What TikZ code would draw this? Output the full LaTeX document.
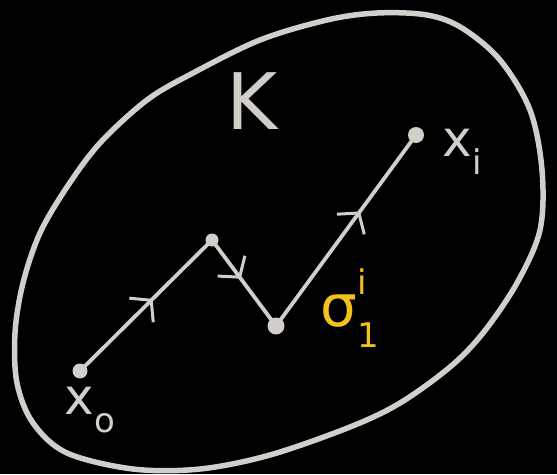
\documentclass[tikz,border=0pt]{standalone}
\usepackage{fontspec}
\setmainfont{DejaVu Sans}
\usetikzlibrary{arrows.meta,decorations.markings}
\definecolor{chalk}{HTML}{D2CFCA}
\definecolor{gold}{HTML}{F2C21B}
\newcommand{\lowsub}[1]{\raisebox{-0.35em}{\fontsize{34}{34}\selectfont #1}}
\newcommand{\highsup}[1]{\raisebox{0.55em}{\fontsize{34}{34}\selectfont #1}}
\tikzset{
  stroke/.style={draw=chalk,line width=5.5pt,line cap=round,line join=round},
  pathseg/.style={draw=chalk,line width=3.8pt,line cap=round,postaction={decorate},
    decoration={markings,mark=at position #1 with {\arrow[chalk,line width=3pt]{Straight Barb[length=14pt,width=34pt]}}}},
  ptdot/.style={circle,fill=chalk,inner sep=0pt,minimum size=15pt},
  lab/.style={text=chalk,inner sep=0pt,font=\fontsize{50}{56}\selectfont}
}
\begin{document}
\begin{tikzpicture}[x=1pt,y=-1pt]
\fill[black] (0,0) rectangle (557,474);
\useasboundingbox (0,0) rectangle (557,474);
% region K
\draw[stroke] plot[smooth cycle,tension=0.55] coordinates {
 (15,333) (23,283) (40,233) (67,187) (100,143) (147,100) (193,73) (260,40)
 (327,20) (377,13) (427,15) (462,28) (500,60) (530,110) (542,170) (540,230)
 (517,283) (483,333) (450,367) (400,403) (350,427) (270,455) (200,469)
 (133,469) (67,453) (33,423) (17,383)};
% points
\node[ptdot] (p0) at (80,371) {};
\node[ptdot,minimum size=13pt] (p1) at (212,240) {};
\node[ptdot,minimum size=17pt] (p2) at (276,326) {};
\node[ptdot,minimum size=16pt] (p3) at (416,135) {};
% path segments
\draw[pathseg=0.55] (p0.center) -- (p1.center);
\draw[pathseg=0.45] (p1.center) -- (p2.center);
\draw[pathseg=0.6] (p2.center) -- (p3.center);
% labels
\node[lab,font=\fontsize{78}{84}\selectfont] (K) at (252,101) {K};
\node[lab] (x0) at (90,410) {x\lowsub{o}};
\node[lab] (xi) at (462,152) {x\lowsub{i}};
\node[lab,text=gold,font=\fontsize{58}{62}\selectfont] (sig) at (350,308) {σ\makebox[0pt][l]{\highsup{i}}\lowsub{1}};
\end{tikzpicture}
\end{document}
